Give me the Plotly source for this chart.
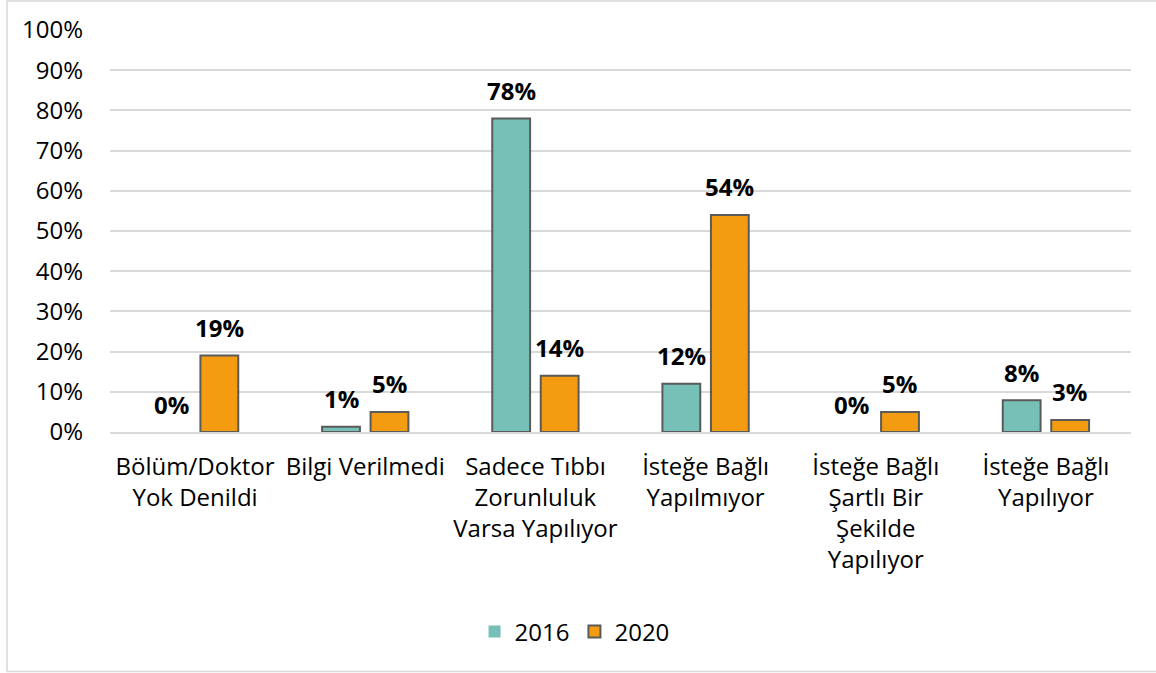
import plotly.graph_objects as go

# Categories (x axis) and the share per year, in percent
categories = [
    "Bölüm/Doktor<br>Yok Denildi",
    "Bilgi Verilmedi",
    "Sadece Tıbbı<br>Zorunluluk<br>Varsa Yapılıyor",
    "İsteğe Bağlı<br>Yapılmıyor",
    "İsteğe Bağlı<br>Şartlı Bir<br>Şekilde<br>Yapılıyor",
    "İsteğe Bağlı<br>Yapılıyor",
]
values_2016 = [0, 1.3, 78, 12, 0, 7.9]
values_2020 = [19, 5, 14, 54, 5, 3]
y_ticks = list(range(0, 101, 10))
y_tick_labels = [f"{t}%" for t in y_ticks]

font_family = "Open Sans, Carlito, Calibri, sans-serif"


def outline(vals):
    # no outline on empty (0%) bars, like the original
    return dict(color="#5A5A5A", width=[0 if v == 0 else 2 for v in vals])


fig = go.Figure()
fig.add_trace(go.Bar(name="2016", x=categories, y=values_2016,
                     marker=dict(color="#76C0B8", line=outline(values_2016))))
fig.add_trace(go.Bar(name="2020", x=categories, y=values_2020,
                     marker=dict(color="#F39C12", line=outline(values_2020))))

# value labels above each bar (offset left/right to sit over its own bar)
for vals, shift in [(values_2016, -24), (values_2020, 24)]:
    for c, v in zip(categories, vals):
        fig.add_annotation(x=c, y=v, text=f"<b>{round(v)}%</b>", showarrow=False,
                           xshift=shift, yshift=28, yanchor="middle",
                           font=dict(size=24, color="#000000", family=font_family))

# light grey frame around the whole chart
fig.add_shape(type="rect", xref="paper", yref="paper",
              x0=-0.1009, x1=1.03, y0=-0.5955, y1=1.072,
              line=dict(color="#D9D9D9", width=1.5), layer="below")

fig.update_layout(
    width=1156, height=673,
    margin=dict(l=110, r=25, t=30, b=241),
    paper_bgcolor="white", plot_bgcolor="white",
    font=dict(family=font_family, size=24, color="#000000"),
    barmode="group", bargap=0.43, bargroupgap=0.22,
    showlegend=True,
    legend=dict(orientation="h", x=0.455, xanchor="center", y=-0.4975, yanchor="middle",
                font=dict(size=24), itemwidth=30, traceorder="normal"),
)
fig.update_yaxes(range=[0, 100], tickvals=y_ticks, ticktext=y_tick_labels,
                 showgrid=True, gridcolor="#D9D9D9", gridwidth=1.5,
                 zeroline=False, showline=False, ticklabelstandoff=26,
                 tickfont=dict(size=24))
fig.update_xaxes(showline=True, linecolor="#D9D9D9", linewidth=1.5, tickangle=0,
                 tickfont=dict(size=24), ticklabelstandoff=12)

fig.write_html("out.html", config={"displayModeBar": False},
               post_script="document.body.style.margin='0';")
